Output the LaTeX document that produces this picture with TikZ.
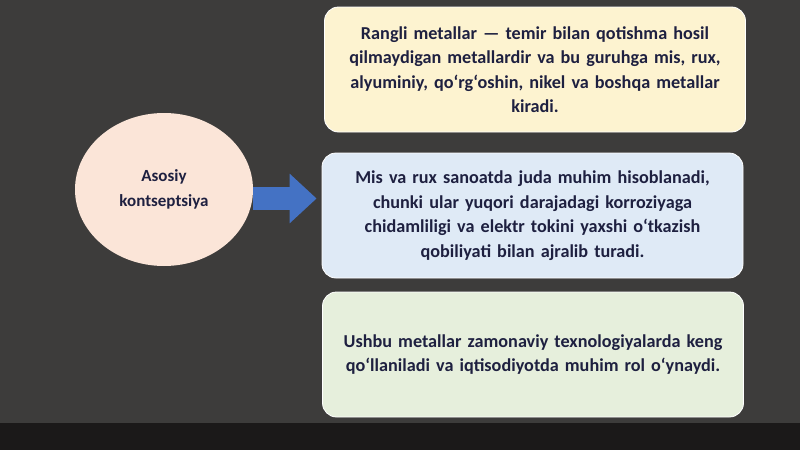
\documentclass[tikz,border=0pt]{standalone}
\usepackage{fontspec}
\setmainfont{Carlito}
\usetikzlibrary{arrows.meta,shapes.geometric}
\definecolor{slide}{HTML}{3D3C3B}
\definecolor{strip}{HTML}{1B1919}
\definecolor{ink}{HTML}{1E2040}
\definecolor{peach}{HTML}{FBE5D8}
\definecolor{cardY}{HTML}{FDF3D0}
\definecolor{cardB}{HTML}{DFEAF6}
\definecolor{cardG}{HTML}{E6EFDC}
\definecolor{arrowblue}{HTML}{4472C4}

\begin{document}
\begin{tikzpicture}[x = 1pt, y = -1pt,
    txt/.style = {font = \bfseries\fontsize{18.2}{24.5}\selectfont, text = ink, align = center},
    card/.style = {txt, draw = white, line width = 0.8pt, rounded corners = 14pt,
      minimum width = 421pt, minimum height = 125pt, text width = 410pt},
    bigarrow/.style = {draw = arrowblue, line width = 23pt,
      -{Triangle[length = 27pt, width = 48pt]}}]
      \fill[slide] (0, 0) rectangle (800, 450);
      \fill[strip] (0, 423) rectangle (800, 450);
      \node[txt, font = \bfseries\fontsize{17}{25}\selectfont, ellipse, fill = peach,
        inner sep = 0pt, minimum width = 178pt, minimum height = 153pt]
        (core) at (164, 189.5) {Asosiy\\kontseptsiya};
      \node[card, fill = cardY] (rangli) at (535, 69.5)
        {Rangli metallar — temir bilan qotishma hosil\\qilmaydigan metallardir va bu guruhga mis, rux,\\alyuminiy, qo‘rg‘oshin, nikel va boshqa metallar\\kiradi.};
      \node[card, fill = cardB] (misrux) at (532.5, 215.5)
        {Mis va rux sanoatda juda muhim hisoblanadi,\\chunki ular yuqori darajadagi korroziyaga\\chidamliligi va elektr tokini yaxshi o‘tkazish\\qobiliyati bilan ajralib turadi.};
      \node[card, fill = cardG] (texno) at (533, 354.5)
        {Ushbu metallar zamonaviy texnologiyalarda keng\\qo‘llaniladi va iqtisodiyotda muhim rol o‘ynaydi.};
      \draw[bigarrow, shorten > = 5pt] (core.east |- 0, 198.5) -- (misrux.west |- 0, 198.5);
    \end{tikzpicture}
\end{document}
